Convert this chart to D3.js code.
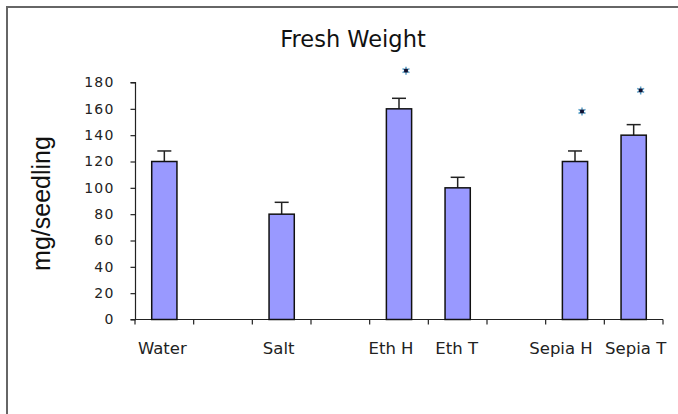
<!DOCTYPE html>
<html>
<head>
<meta charset="utf-8">
<script src="https://cdn.jsdelivr.net/npm/d3@7"></script>
<style>
  body { margin: 0; background: #fff; }
  svg { display: block; }
</style>
</head>
<body>
<svg width="678" height="414"></svg>
<script>
// slots along the x axis, empty ones are gaps between groups
let slots = ['Water', 's1', 'Salt', 's3', 'Eth H', 'Eth T', 's6', 'Sepia H', 'Sepia T'];
let categories = ['Water', 'Salt', 'Eth H', 'Eth T', 'Sepia H', 'Sepia T'];
let values = [120, 80, 160, 100, 120, 140];
let errors = [8, 9, 8, 8, 8, 8];
let starred = ['Eth H', 'Sepia H', 'Sepia T'];
let starValues = [189, 158, 174];
let yTicks = [0, 20, 40, 60, 80, 100, 120, 140, 160, 180];

let svg = d3.select('svg');

// outer frame (only left and top edges visible in the picture)
svg.append('path')
  .attr('d', 'M 7 414 L 7 7 L 678 7')
  .attr('fill', 'none')
  .attr('stroke', '#666')
  .attr('stroke-width', 2);

let x = d3.scaleBand()
  .domain(slots)
  .range([135, 663])
  .paddingInner(0.57)
  .paddingOuter(0.285);

let xSlot = d3.scaleBand()
  .domain(slots)
  .range([135, 663]);

let y = d3.scaleLinear()
  .domain([0, 180])
  .range([319.5, 82.5]);

// title
svg.append('text')
  .attr('x', 353)
  .attr('y', 47)
  .attr('text-anchor', 'middle')
  .attr('font-family', 'DejaVu Sans')
  .attr('font-size', 22.5)
  .attr('fill', '#111')
  .text('Fresh Weight');

// y label
svg.append('text')
  .attr('transform', 'translate(50, 203.5) rotate(-90)')
  .attr('text-anchor', 'middle')
  .attr('font-family', 'Liberation Sans, Arial')
  .attr('font-size', 25)
  .attr('fill', '#111')
  .text('mg/seedling');

// y axis
let yAxis = svg.append('g')
  .attr('transform', 'translate(135.5,0)')
  .call(d3.axisLeft(y).tickValues(yTicks).tickSize(5).tickPadding(16));
yAxis.selectAll('path, line').attr('stroke', '#222').attr('stroke-width', 1.2);
yAxis.select('.domain').attr('d', `M -5 ${y(180)} H 0 V ${y(0)} H -5`);
yAxis.selectAll('text')
  .attr('font-family', 'DejaVu Sans')
  .attr('font-size', 14)
  .attr('letter-spacing', 1.2)
  .attr('fill', '#222');

// x axis: ticks at slot boundaries
let bounds = slots.map(s => xSlot(s)).concat([663]);
let xg = svg.append('g');
xg.append('line')
  .attr('x1', 135).attr('x2', 663)
  .attr('y1', y(0)).attr('y2', y(0))
  .attr('stroke', '#222').attr('stroke-width', 1.2);
xg.selectAll('.tick')
  .data(bounds)
  .enter().append('line')
  .attr('x1', d => d).attr('x2', d => d)
  .attr('y1', y(0)).attr('y2', y(0) + 5)
  .attr('stroke', '#222').attr('stroke-width', 1.2);

// category labels (nudged a little like the original)
let nudge = { 'Water': -2, 'Salt': -3, 'Eth H': -8, 'Eth T': -1, 'Sepia H': -14, 'Sepia T': 2 };
svg.selectAll('.xlab')
  .data(categories)
  .enter().append('text')
  .attr('x', d => xSlot(d) + xSlot.bandwidth() / 2 + nudge[d])
  .attr('y', 354)
  .attr('text-anchor', 'middle')
  .attr('font-family', 'DejaVu Sans')
  .attr('font-size', 16.5)
  .attr('fill', '#222')
  .text(d => d);

// error bars (upper only)
let eb = svg.selectAll('.err')
  .data(categories)
  .enter().append('g');
eb.append('line')
  .attr('x1', d => x(d) + x.bandwidth() / 2)
  .attr('x2', d => x(d) + x.bandwidth() / 2)
  .attr('y1', (d, i) => y(values[i]))
  .attr('y2', (d, i) => y(values[i] + errors[i]))
  .attr('stroke', '#222').attr('stroke-width', 1.5);
eb.append('line')
  .attr('x1', d => x(d) + x.bandwidth() / 2 - 7)
  .attr('x2', d => x(d) + x.bandwidth() / 2 + 7)
  .attr('y1', (d, i) => y(values[i] + errors[i]))
  .attr('y2', (d, i) => y(values[i] + errors[i]))
  .attr('stroke', '#222').attr('stroke-width', 1.5);

// bars
svg.selectAll('.bar')
  .data(categories)
  .enter().append('rect')
  .attr('x', d => x(d))
  .attr('y', (d, i) => y(values[i]))
  .attr('width', x.bandwidth())
  .attr('height', (d, i) => y(0) - y(values[i]))
  .attr('fill', '#9999ff')
  .attr('stroke', '#111')
  .attr('stroke-width', 1.5);

// significance stars
let stars = svg.selectAll('.star')
  .data(starred)
  .enter().append('g')
  .attr('transform', (d, i) => `translate(${x(d) + x.bandwidth() / 2 + 7}, ${y(starValues[i])})`);
stars.append('path')
  .attr('d', d3.symbol(d3.symbolAsterisk, 45))
  .attr('fill', 'none')
  .attr('stroke', '#5aa0c8')
  .attr('stroke-width', 1.5);
stars.append('path')
  .attr('d', d3.symbol(d3.symbolSquare, 14))
  .attr('fill', '#101030');
</script>
</body>
</html>
